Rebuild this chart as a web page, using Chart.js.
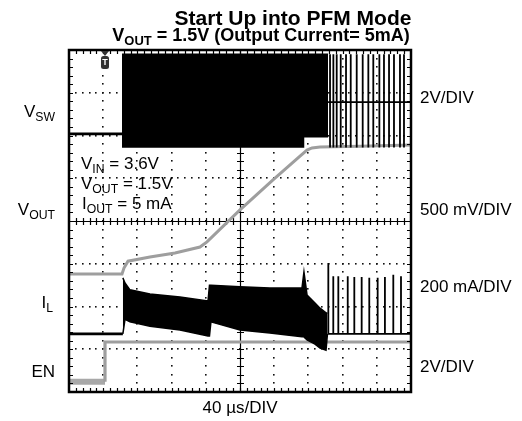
<!DOCTYPE html>
<html><head><meta charset="utf-8">
<script src="https://cdn.jsdelivr.net/npm/chart.js@4/dist/chart.umd.min.js"></script>
<style>
html,body{margin:0;padding:0;background:#fff;}
#wrap{position:relative;width:522px;height:421px;font-family:"Liberation Sans",Arial,Helvetica,sans-serif;color:#000;overflow:hidden;}
#c{position:absolute;left:0;top:0;}
.t{position:absolute;white-space:nowrap;line-height:1;}
.s{font-size:0.72em;position:relative;top:0.32em;}
</style></head><body>
<div id="wrap"><canvas id="c" width="522" height="421"></canvas></div>
<script>
// ---- scope settings ----
const usPerDiv = 40;          // 40 µs/DIV
const xDivs = 10, yDivs = 8;

// ---- V_SW (switch node), levels in divisions ----
const vswPreTime  = [0, 62];
const vswPreLevel = [6.04, 6.04];
const vswBandTime = [62, 273.7, 273.7, 303];
const vswBandHigh = [7.9, 7.9, 7.9, 7.9];
const vswBandLow  = [5.74, 5.74, 5.98, 5.98];
const vswPfmBase  = 6.78;
const vswSpikeTimes = [305.3, 309.2, 313.1, 317.8, 324, 329.5, 336.5, 343.5, 350.1, 355.9, 363, 368.4, 374.3, 380.1, 387.1, 391.8];
const vswSpikeHigh = 7.9;
const vswSpikeLow  = 5.72;

// ---- V_OUT ----
const voutTime  = [0, 62, 64.3, 69, 94.7, 124, 153.2, 161.4, 200, 238.6, 270.2, 278.4, 284.2, 293.6, 340.4, 400];
const voutLevel = [2.76, 2.76, 2.90, 3.06, 3.16, 3.25, 3.39, 3.51, 4.26, 4.96, 5.52, 5.66, 5.71, 5.73, 5.75, 5.78];

// ---- I_L (inductor current) ----
const ilPreTime  = [0, 63];
const ilPreLevel = [1.36, 1.36];
const ilBandTime = [63, 65.5, 71.3, 94.7, 129.8, 162.6, 164.3, 166, 200, 235, 272.5, 274.8, 278.4, 287.7, 293.6, 300.6, 302.3];
const ilBandHigh = [2.67, 2.55, 2.39, 2.29, 2.22, 2.13, 2.50, 2.50, 2.46, 2.43, 2.43, 2.81, 2.27, 2.08, 1.96, 1.85, 1.85];
const ilBandLow  = [1.36, 1.70, 1.64, 1.54, 1.45, 1.31, 1.31, 1.64, 1.45, 1.38, 1.29, 1.29, 1.22, 1.12, 1.03, 0.98, 1.36];
const ilPfmBase  = 1.36;
const ilSpikeTimes = [303.3, 309.1, 315.0, 326.0, 333.7, 342.3, 351.2, 361.0, 369.5, 379.3, 388.3];
const ilSpikeTops  = [3.02, 2.71, 2.71, 2.71, 2.69, 2.69, 2.67, 2.67, 2.69, 2.74, 2.71];

// ---- EN ----
const enTime  = [0, 42.1, 42.1, 400];
const enLevel = [0.24, 0.24, 1.17, 1.17];
const triggerTime = 42.1;

// ---- helpers building library data from the arrays ----
const pts = (t, v) => t.map((x, i) => ({x, y: v[i]}));
function spikeTrain(start, end, base, times, tops, lows) {
  const out = [{x: start, y: base}];
  times.forEach((t, i) => {
    out.push({x: t, y: base});
    out.push({x: t, y: Array.isArray(tops) ? tops[i] : tops});
    if (lows !== undefined) out.push({x: t, y: lows});
    out.push({x: t, y: base});
  });
  out.push({x: end, y: base});
  return out;
}

const BLACK = '#000', GRAY = '#9e9e9e';

const datasets = [
  {data: pts(vswPreTime, vswPreLevel), borderColor: BLACK, borderWidth: 2.8, order: 1},
  {data: pts(vswBandTime, vswBandHigh), borderColor: BLACK, borderWidth: 1.5, fill: '+1', backgroundColor: BLACK, order: 1},
  {data: pts(vswBandTime, vswBandLow), borderColor: BLACK, borderWidth: 2.5, order: 1},
  {data: spikeTrain(303, 400, vswPfmBase, vswSpikeTimes, vswSpikeHigh, vswSpikeLow), borderColor: BLACK, borderWidth: 1.8, order: 1},
  {data: pts(voutTime, voutLevel), borderColor: GRAY, borderWidth: 3, order: 2},
  {data: pts(ilPreTime, ilPreLevel), borderColor: BLACK, borderWidth: 2.8, order: 1},
  {data: pts(ilBandTime, ilBandHigh), borderColor: BLACK, borderWidth: 1.5, fill: '+1', backgroundColor: BLACK, order: 1},
  {data: pts(ilBandTime, ilBandLow), borderColor: BLACK, borderWidth: 1.5, order: 1},
  {data: spikeTrain(302.3, 400, ilPfmBase, ilSpikeTimes, ilSpikeTops), borderColor: BLACK, borderWidth: 1.8, order: 1},
  {data: pts(enTime, enLevel), borderColor: GRAY, borderWidth: 3.2, order: 3,
   segment: {borderWidth: c => c.p0DataIndex === 0 ? 6 : 3.2, borderColor: c => c.p0DataIndex === 0 ? '#a8a8a8' : GRAY}}
];

const graticule = {
  id: 'graticule',
  beforeDatasetsDraw(chart) {
    const {ctx, scales: {x, y}} = chart;
    ctx.save();
    ctx.fillStyle = '#111';
    const xp = i => Math.round(x.getPixelForValue(i * usPerDiv));
    const yp = j => Math.round(y.getPixelForValue(j));
    for (let i = 1; i < xDivs; i++) {
      if (i === xDivs / 2) continue;
      for (let k = 1; k < yDivs * 5; k++) ctx.fillRect(xp(i) - 1, yp(k / 5) - 1, 1.6, 1.6);
    }
    for (let j = 1; j < yDivs; j++) {
      if (j === yDivs / 2) continue;
      for (let k = 1; k < xDivs * 5; k++) ctx.fillRect(xp(k / 5) - 1, yp(j) - 1, 1.6, 1.6);
    }
    ctx.strokeStyle = '#000'; ctx.lineWidth = 1.2;
    const cx = xp(xDivs / 2) + 0.5, cy = yp(yDivs / 2) + 0.5;
    ctx.beginPath();
    ctx.moveTo(chart.chartArea.left, cy); ctx.lineTo(chart.chartArea.right, cy);
    ctx.moveTo(cx, chart.chartArea.top); ctx.lineTo(cx, chart.chartArea.bottom);
    for (let k = 1; k < xDivs * 5; k++) { const p = xp(k / 5) + 0.5; ctx.moveTo(p, cy - 3.5); ctx.lineTo(p, cy + 3.5); }
    for (let k = 1; k < yDivs * 5; k++) { const p = yp(k / 5) + 0.5; ctx.moveTo(cx - 3.5, p); ctx.lineTo(cx + 3.5, p); }
    ctx.stroke();
    ctx.restore();
  },
  afterDatasetsDraw(chart) {
    const {ctx, chartArea: a, scales: {x, y}} = chart;
    ctx.save();
    ctx.strokeStyle = '#000';
    ctx.lineWidth = 1.2;
    ctx.beginPath();
    for (let k = 1; k < xDivs * 5; k++) {
      const p = Math.round(x.getPixelForValue(k * usPerDiv / 5)) + 0.5;
      ctx.moveTo(p, a.top); ctx.lineTo(p, a.top + 4);
      ctx.moveTo(p, a.bottom); ctx.lineTo(p, a.bottom - 4);
    }
    for (let k = 1; k < yDivs * 5; k++) {
      const p = Math.round(y.getPixelForValue(k / 5)) + 0.5;
      ctx.moveTo(a.left, p); ctx.lineTo(a.left + 4, p);
      ctx.moveTo(a.right, p); ctx.lineTo(a.right - 4, p);
    }
    ctx.stroke();
    ctx.lineWidth = 2.5;
    ctx.strokeRect(a.left, a.top, a.right - a.left, a.bottom - a.top);
    const tx = Math.round(x.getPixelForValue(triggerTime));
    ctx.fillStyle = '#333';
    ctx.beginPath();
    ctx.moveTo(tx - 4, a.top + 1); ctx.lineTo(tx + 4, a.top + 1); ctx.lineTo(tx, a.top + 6); ctx.closePath(); ctx.fill();
    ctx.beginPath();
    ctx.roundRect(tx - 4, a.top + 6, 8, 13, 2.5);
    ctx.fill();
    ctx.fillStyle = '#fff';
    ctx.font = 'bold 9px "Liberation Sans", Arial';
    ctx.textAlign = 'center'; ctx.textBaseline = 'middle';
    ctx.fillText('T', tx, a.top + 13);
    ctx.restore();
  }
};

new Chart(document.getElementById('c'), {
  type: 'line',
  data: {datasets},
  options: {
    responsive: false, animation: false, devicePixelRatio: 1,
    layout: {padding: {left: 69, right: 111, top: 50, bottom: 29}},
    scales: {
      x: {type: 'linear', min: 0, max: xDivs * usPerDiv, display: false},
      y: {type: 'linear', min: 0, max: yDivs, display: false}
    },
    plugins: {legend: {display: false}, tooltip: {enabled: false}, title: {display: false}},
    elements: {point: {radius: 0}, line: {tension: 0, borderCapStyle: 'butt', borderJoinStyle: 'miter'}}
  },
  plugins: [graticule]
});

const wrap = document.getElementById('wrap');
function label(html, x, baseline, fs, align, bold) {
  const d = document.createElement('div');
  d.className = 't';
  d.innerHTML = html;
  d.style.fontSize = fs + 'px';
  if (bold) d.style.fontWeight = 'bold';
  d.style.top = (baseline - 0.8465 * fs) + 'px';
  d.style.left = x + 'px';
  if (align === 'center') d.style.transform = 'translateX(-50%)';
  if (align === 'right') d.style.transform = 'translateX(-100%)';
  wrap.appendChild(d);
}
label('Start Up into PFM Mode', 293, 25, 21, 'center', true);
label('V<span class="s">OUT</span> = 1.5V (Output Current= 5mA)', 261, 41, 18, 'center', true);
label('V<span class="s">IN</span> = 3.6V', 81, 169, 17, 'left');
label('V<span class="s">OUT</span> = 1.5V', 81, 189, 17, 'left');
label('I<span class="s">OUT</span> = 5 mA', 82, 209, 17, 'left');
label('V<span class="s">SW</span>', 55, 117, 17, 'right');
label('V<span class="s">OUT</span>', 55, 215, 17, 'right');
label('I<span class="s">L</span>', 53, 308, 17, 'right');
label('EN', 55, 377, 17, 'right');
label('2V/DIV', 420, 103, 17, 'left');
label('500 mV/DIV', 420, 215, 17, 'left');
label('200 mA/DIV', 420, 292, 17, 'left');
label('2V/DIV', 420, 372, 17, 'left');
label('40 \u00b5s/DIV', 240, 413, 17, 'center');
</script>
</body></html>
